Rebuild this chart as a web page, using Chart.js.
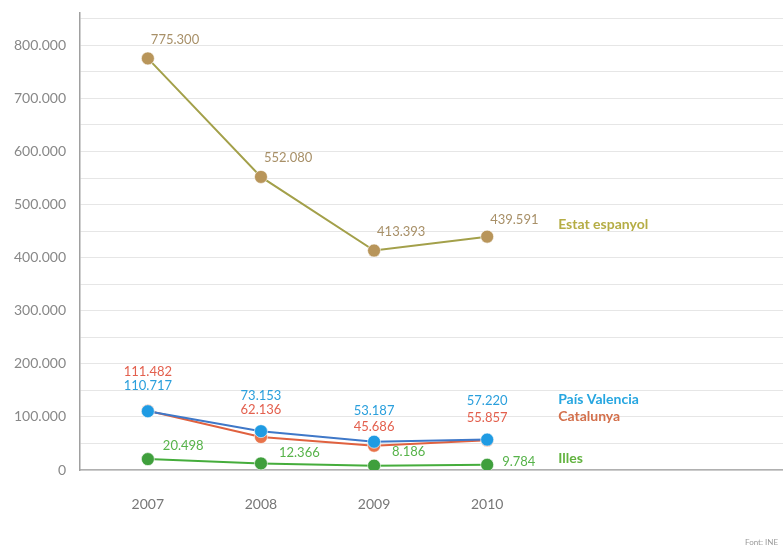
<!DOCTYPE html>
<html>
<head>
<meta charset="utf-8">
<script src="https://cdn.jsdelivr.net/npm/chart.js@4/dist/chart.umd.min.js"></script>
<style>
  body { margin: 0; background: #fff; }
  #wrap { position: relative; width: 783px; height: 549px; overflow: hidden; }
  #chart { position: absolute; left: 0; top: -10px; }
  #font { position: absolute; left: 745px; top: 537px; font: 8px Lato, sans-serif; color: #999; white-space: nowrap; }
</style>
</head>
<body>
<div id="wrap">
  <canvas id="chart" width="791" height="559"></canvas>
  <div id="font">Font: INE</div>
</div>
<script>
const years = [2007, 2008, 2009, 2010];
const seriesNames = ["Estat espanyol", "País Valencia", "Catalunya", "Illes"];
const estat = [775300, 552080, 413393, 439591];
const valencia = [110717, 73153, 53187, 57220];
const catalunya = [111482, 62136, 45686, 55857];
const illes = [20498, 12366, 8186, 9784];
const yTicks = [0, 50000, 100000, 150000, 200000, 250000, 300000, 350000, 400000, 450000, 500000, 550000, 600000, 650000, 700000, 750000, 800000, 850000];

function fmt(v) {
  return String(v).replace(/\B(?=(\d{3})+(?!\d))/g, ".");
}

function pts(vals) {
  return vals.map((v, i) => ({ x: years[i], y: v }));
}

// label placement per point: dx, dy, align
const styles = [
  { line: "#a3a04a", point: "#b8955a", text: "#a89068", nameColor: "#b5ad45", order: 3,
    lab: [[3, -19, "left"], [3, -19, "left"], [3, -19, "left"], [3, -17, "left"]], name: [71, -12] },
  { line: "#3f78c8", point: "#1f9be3", text: "#2a9fdc", nameColor: "#26a6e0", order: 0,
    lab: [[0, -25, "center"], [0, -35, "center"], [0, -31, "center"], [0, -39, "center"]], name: [71, -40] },
  { line: "#e0613f", point: "#e8734a", text: "#e3604e", nameColor: "#d3704c", order: 1,
    lab: [[0, -39, "center"], [0, -27, "center"], [0, -19, "center"], [0, -23, "center"]], name: [71, -24] },
  { line: "#45ad3c", point: "#3f9f3c", text: "#57b34a", nameColor: "#62b33f", order: 2,
    lab: [[15, -13, "left"], [18, -11, "left"], [18, -14, "left"], [15, -3, "left"]], name: [71, -6] },
];

const labelPlugin = {
  id: "labels",
  afterDatasetsDraw(chart) {
    const ctx = chart.ctx;
    const xs = chart.scales.x;
    chart.data.datasets.forEach((ds, di) => {
      const st = styles[di];
      const meta = chart.getDatasetMeta(di);
      ctx.save();
      ctx.font = "13px Lato, sans-serif";
      ctx.fillStyle = st.text;
      ctx.textBaseline = "middle";
      meta.data.forEach((p, i) => {
        const l = st.lab[i];
        ctx.textAlign = l[2];
        ctx.fillText(fmt(ds.data[i].y), p.x + l[0], p.y + l[1]);
      });
      const last = meta.data[meta.data.length - 1];
      ctx.font = "bold 14px Lato, sans-serif";
      ctx.fillStyle = st.nameColor;
      ctx.textAlign = "left";
      ctx.fillText(seriesNames[di], xs.getPixelForValue(2010) + st.name[0], last.y + st.name[1]);
      ctx.restore();
    });
  }
};

const allSeries = [estat, valencia, catalunya, illes];

new Chart(document.getElementById("chart").getContext("2d"), {
  type: "line",
  data: {
    datasets: allSeries.map((vals, i) => ({
      label: seriesNames[i],
      data: pts(vals),
      order: styles[i].order,
      borderColor: styles[i].line,
      backgroundColor: styles[i].point,
      pointBackgroundColor: styles[i].point,
      pointBorderColor: "rgba(255,255,255,0.6)",
      pointBorderWidth: 1,
      pointRadius: 6.5,
      borderWidth: 2,
      fill: false,
      tension: 0,
    })),
  },
  options: {
    responsive: false,
    animation: false,
    layout: { padding: { top: 2, right: 0, left: 0, bottom: 0 } },
    plugins: { legend: { display: false }, tooltip: { enabled: false } },
    scales: {
      x: {
        type: "linear",
        min: 2006.4,
        max: 2012.62,
        afterBuildTicks: (s) => { s.ticks = years.map((v) => ({ value: v })); },
        afterFit: (s) => { s.height = 79; },
        grid: { display: false },
        border: { color: "#b0b0b0", width: 1.5 },
        ticks: { color: "#777", font: { family: "Lato", size: 14 }, padding: 18, callback: (v) => String(v) },
      },
      y: {
        min: 0,
        max: 862000,
        afterBuildTicks: (s) => { s.ticks = yTicks.map((v) => ({ value: v })); },
        afterFit: (s) => { s.width = 80; },
        grid: { color: "#e6e6e6", lineWidth: 1, drawTicks: false },
        border: { color: "#a0a0a0", width: 1.5 },
        ticks: {
          color: "#888",
          font: { family: "Lato", size: 14 },
          padding: 14,
          callback: (v) => (v % 100000 === 0 ? fmt(v) : ""),
        },
      },
    },
  },
  plugins: [labelPlugin],
});
</script>
</body>
</html>
